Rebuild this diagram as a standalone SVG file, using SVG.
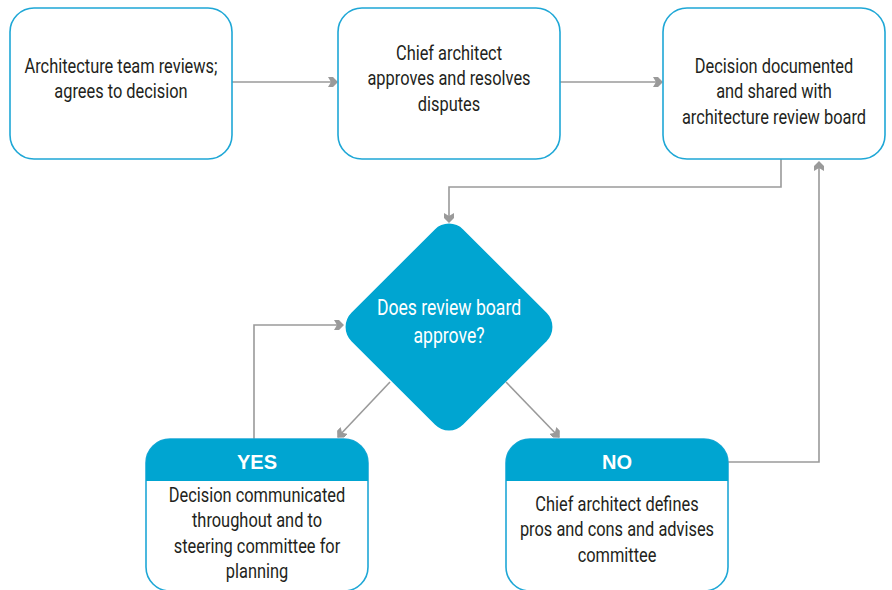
<svg xmlns="http://www.w3.org/2000/svg" width="892" height="590" viewBox="0 0 892 590">
<style>
.box{fill:#fff;stroke:#1ea7d6;stroke-width:1.6}
.hdr{fill:#00a5d1}
.t{font-family:Roboto,"Liberation Sans",sans-serif;font-size:20.5px;fill:#231f20;text-anchor:middle}
.w{fill:#fff;font-size:22px}
.b{font-family:"Liberation Sans",Arial,sans-serif;font-weight:bold;font-size:20px;fill:#fff;text-anchor:middle}
.c{fill:none;stroke:#9a9a9a;stroke-width:1.6}
</style>
<defs>
<marker id="ah" viewBox="0 0 10 10" refX="9" refY="5" markerWidth="10" markerHeight="10" markerUnits="userSpaceOnUse" orient="auto">
<path d="M0,0 L5,0 L10,5 L5,10 L0,10 L3,5 Z" fill="#9a9a9a"/>
</marker>
</defs>
<g id="connectors">
<path class="c" d="M232,82 H337" marker-end="url(#ah)"/>
<path class="c" d="M560,82 H662" marker-end="url(#ah)"/>
<path class="c" d="M781,159 V187 H449 V222" marker-end="url(#ah)"/>
<path class="c" d="M390,382 L338,437" marker-end="url(#ah)"/>
<path class="c" d="M506,382 L559,437" marker-end="url(#ah)"/>
<path class="c" d="M254,439 V325 H343" marker-end="url(#ah)"/>
<path class="c" d="M728,462 H819 V162" marker-end="url(#ah)"/>
</g>
<g id="n1">
<rect class="box" x="10" y="8" width="222" height="151" rx="24"/>
<text class="t" transform="translate(121 0) scale(0.8 1)" y="73"><tspan x="0">Architecture team reviews;</tspan><tspan x="0" dy="25.5">agrees to decision</tspan></text>
</g>
<g id="n2">
<rect class="box" x="338" y="8" width="222" height="151" rx="24"/>
<text class="t" transform="translate(449 0) scale(0.8 1)" y="60"><tspan x="0">Chief architect</tspan><tspan x="0" dy="25.5">approves and resolves</tspan><tspan x="0" dy="25.5">disputes</tspan></text>
</g>
<g id="n3">
<rect class="box" x="663" y="8" width="222" height="151" rx="24"/>
<text class="t" transform="translate(774 0) scale(0.8 1)" y="73"><tspan x="0">Decision documented</tspan><tspan x="0" dy="25.5">and shared with</tspan><tspan x="0" dy="25.5">architecture review board</tspan></text>
</g>
<g id="decision">
<rect class="hdr" x="-79" y="-79" width="158" height="158" rx="20" transform="translate(449 327) rotate(45)"/>
<text class="t w" transform="translate(449 0) scale(0.8 1)" y="315"><tspan x="0">Does review board</tspan><tspan x="0" dy="28">approve?</tspan></text>
</g>
<g id="yes">
<rect class="box" x="146" y="439" width="222" height="152" rx="24"/>
<path class="hdr" d="M146,481 V463 A24,24 0 0 1 170,439 H344 A24,24 0 0 1 368,463 V481 Z"/>
<text class="b" x="257" y="469">YES</text>
<text class="t" transform="translate(257 0) scale(0.8 1)" y="502"><tspan x="0">Decision communicated</tspan><tspan x="0" dy="25.5">throughout and to</tspan><tspan x="0" dy="25.5">steering committee for</tspan><tspan x="0" dy="25.5">planning</tspan></text>
</g>
<g id="no">
<rect class="box" x="506" y="439" width="222" height="152" rx="24"/>
<path class="hdr" d="M506,481 V463 A24,24 0 0 1 530,439 H704 A24,24 0 0 1 728,463 V481 Z"/>
<text class="b" x="617" y="469">NO</text>
<text class="t" transform="translate(617 0) scale(0.8 1)" y="511"><tspan x="0">Chief architect defines</tspan><tspan x="0" dy="25.5">pros and cons and advises</tspan><tspan x="0" dy="25.5">committee</tspan></text>
</g>
</svg>
